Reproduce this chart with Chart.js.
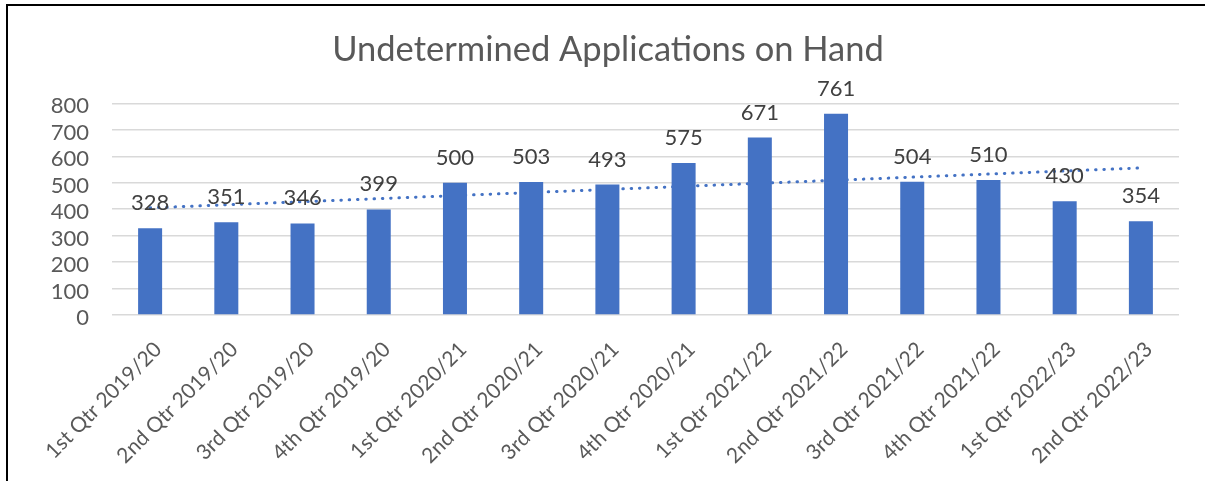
<!DOCTYPE html>
<html>
<head>
<meta charset="utf-8">
<script src="https://cdn.jsdelivr.net/npm/chart.js@4.4.1/dist/chart.umd.min.js"></script>
<style>
  html, body { margin:0; padding:0; background:#ffffff; overflow:hidden; width:1205px; height:481px; }
  #c { position:absolute; left:0; top:0; }
  #frame { position:absolute; left:6px; top:4px; width:1400px; height:700px;
           border-top:2px solid #000; border-left:2px solid #000; pointer-events:none; }
</style>
</head>
<body>
<canvas id="c" width="1205" height="481"></canvas>
<div id="frame"></div>
<script>
const chartTitle = 'Undetermined Applications on Hand';
const categories = [
  '1st Qtr 2019/20', '2nd Qtr 2019/20', '3rd Qtr 2019/20', '4th Qtr 2019/20',
  '1st Qtr 2020/21', '2nd Qtr 2020/21', '3rd Qtr 2020/21', '4th Qtr 2020/21',
  '1st Qtr 2021/22', '2nd Qtr 2021/22', '3rd Qtr 2021/22', '4th Qtr 2021/22',
  '1st Qtr 2022/23', '2nd Qtr 2022/23'
];
const applications = [328, 351, 346, 399, 500, 503, 493, 575, 671, 761, 504, 510, 430, 354];
// Linear trendline: values read at first and last quarter
const trendStart = 405;
const trendEnd = 556;
const yTickValues = [0, 100, 200, 300, 400, 500, 600, 700, 800];

const trendData = categories.map((_, i) =>
  i === 0 ? trendStart : (i === categories.length - 1 ? trendEnd : null));

const barLabels = {
  id: 'barLabels',
  afterDatasetsDraw(chart) {
    const meta = chart.getDatasetMeta(0);
    const ctx = chart.ctx;
    ctx.save();
    ctx.font = '22px Lato';
    ctx.fillStyle = '#404040';
    ctx.textAlign = 'center';
    ctx.textBaseline = 'alphabetic';
    meta.data.forEach((bar, i) => {
      ctx.fillText(String(applications[i]), bar.x, bar.y - 18);
    });
    ctx.restore();
  }
};

new Chart(document.getElementById('c'), {
  data: {
    labels: categories,
    datasets: [
      {
        type: 'bar',
        label: 'Applications',
        data: applications,
        backgroundColor: '#4472C4',
        borderWidth: 0,
        categoryPercentage: 1,
        barPercentage: 0.315,
        order: 0
      },
      {
        type: 'line',
        label: 'Linear trend',
        data: trendData,
        spanGaps: true,
        borderColor: '#4472C4',
        borderWidth: 3,
        borderDash: [0.5, 7.8],
        borderCapStyle: 'round',
        pointRadius: 0,
        fill: false,
        tension: 0,
        order: 1
      }
    ]
  },
  options: {
    responsive: false,
    animation: false,
    devicePixelRatio: 1,
    layout: { padding: { left: 37, right: 26, top: 0, bottom: 0 } },
    plugins: {
      legend: { display: false },
      tooltip: { enabled: false },
      title: {
        display: true,
        text: chartTitle,
        color: '#595959',
        font: { family: 'Lato', size: 34.5, weight: 'normal', lineHeight: 1.2 },
        padding: { top: 29, bottom: 33 }
      }
    },
    scales: {
      x: {
        offset: true,
        grid: { display: false },
        border: { display: false },
        ticks: {
          autoSkip: false,
          minRotation: 45,
          maxRotation: 45,
          color: '#595959',
          font: { family: 'Lato', size: 21 },
          padding: 14,
          labelOffset: 8
        },
        afterFit: s => { s.height = 166; }
      },
      y: {
        min: 0,
        max: 800,
        afterBuildTicks: s => { s.ticks = yTickValues.map(v => ({ value: v })); },
        grid: { color: '#d9d9d9', lineWidth: 1.5, drawTicks: false },
        border: { display: false },
        ticks: {
          autoSkip: false,
          color: '#595959',
          font: { family: 'Lato', size: 22 },
          padding: 23,
          labelOffset: 3
        },
        afterFit: s => { s.width = 75; }
      }
    }
  },
  plugins: [barLabels]
});
</script>
</body>
</html>
